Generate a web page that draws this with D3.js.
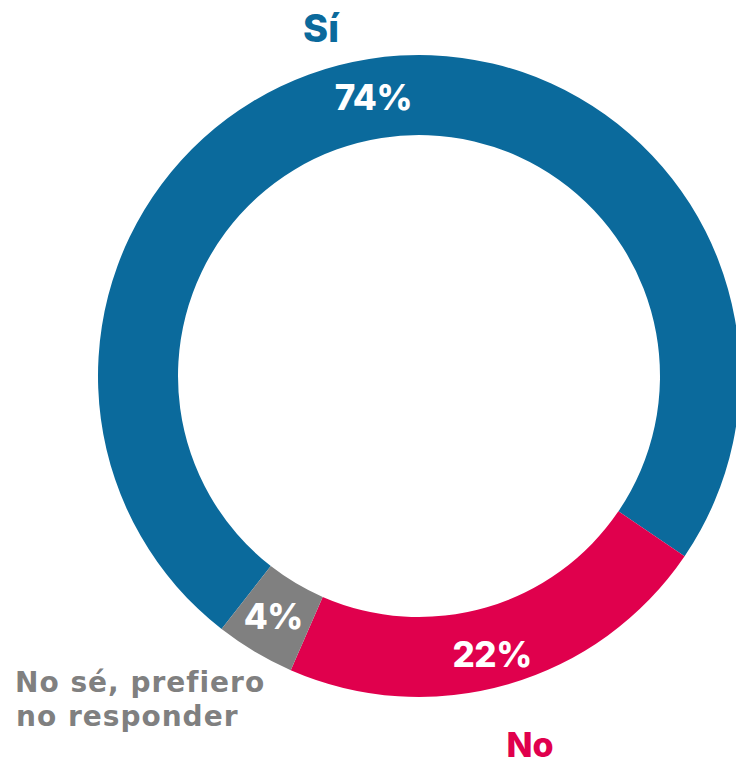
<!DOCTYPE html>
<html><head><meta charset="utf-8">
<script src="https://cdn.jsdelivr.net/npm/d3@7"></script>
<style>html,body{margin:0;padding:0;background:#fff;}svg{display:block;}</style>
</head><body>
<svg id="c" width="736" height="766"></svg>
<script>
const categories = ["Sí", "No", "No sé, prefiero no responder"];
const values = [73.95, 22.05, 4.0];
const valueLabels = ["74%", "22%", "4%"];
const colors = ["#0b6a9c", "#e0004d", "#808080"];

const svg = d3.select("#c");
const cx = 419, cy = 376, rOuter = 321, rInner = 241;
const startDeg = -142.05;
const FONT = "Inter, 'DejaVu Sans', sans-serif";
const WIDE = "'DejaVu Sans', sans-serif";

const pie = d3.pie().sort(null).value(d => d)
  .startAngle(startDeg * Math.PI / 180)
  .endAngle((startDeg + 360) * Math.PI / 180);
const arcs = pie(values);
const arc = d3.arc().innerRadius(rInner).outerRadius(rOuter);

const g = svg.append("g").attr("transform", `translate(${cx},${cy})`);
g.selectAll("path").data(arcs).join("path")
  .attr("d", arc).attr("fill", (d, i) => colors[i]);

// percent labels at centroids
const labelOffsets = [[-2, 12], [-5, 21], [-2, 12]];
g.selectAll("text.pct").data(arcs).join("text")
  .attr("class", "pct")
  .attr("x", (d, i) => arc.centroid(d)[0] + labelOffsets[i][0])
  .attr("y", (d, i) => arc.centroid(d)[1] + labelOffsets[i][1])
  .attr("text-anchor", "middle")
  .attr("fill", "#fff")
  .attr("font-family", FONT).attr("font-weight", 800)
  .attr("font-size", 35).attr("letter-spacing", -0.5)
  .text((d, i) => valueLabels[i]);

// category labels
svg.append("text").attr("x", 321).attr("y", 42).attr("text-anchor", "middle")
  .attr("fill", colors[0]).attr("font-family", FONT).attr("font-weight", 800)
  .attr("font-size", 38).text(categories[0]);
svg.append("text").attr("x", 530).attr("y", 757).attr("text-anchor", "middle")
  .attr("fill", colors[1]).attr("font-family", FONT).attr("font-weight", 800)
  .attr("font-size", 34).text(categories[1]);
const t = svg.append("text").attr("fill", colors[2]).attr("font-family", WIDE)
  .attr("font-weight", "bold").attr("font-size", 28).attr("letter-spacing", 1.0);
t.append("tspan").attr("x", 15).attr("y", 692).text("No sé, prefiero");
t.append("tspan").attr("x", 16).attr("y", 726).text("no responder");
</script>
</body></html>
